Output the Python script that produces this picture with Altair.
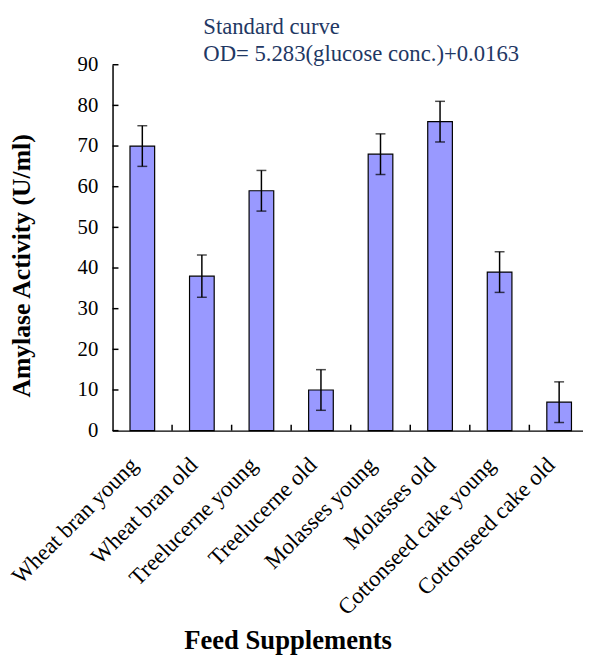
import altair as alt
import pandas as pd

categories = ["Wheat bran young", "Wheat bran old", "Treelucerne young", "Treelucerne old",
              "Molasses young", "Molasses old", "Cottonseed cake young", "Cottonseed cake old"]
values = [70, 38, 59, 10, 68, 76, 39, 7]
errors = [5, 5.2, 5, 5, 5, 5, 5, 5]
y_ticks = [0, 10, 20, 30, 40, 50, 60, 70, 80, 90]
note_lines = ["Standard curve", "OD= 5.283(glucose conc.)+0.0163"]

df = pd.DataFrame({"cat": categories, "val": values, "err": errors})
df["lo"] = df["val"] - df["err"]
df["hi"] = df["val"] + df["err"]
df["idx"] = range(len(df))

W, H = 477, 371
FONT = "Liberation Serif"

xscale = alt.Scale(range=[0, 483], paddingInner=0.586, paddingOuter=0.293)
yscale = alt.Scale(domain=[0, 90], nice=False)

x_enc = alt.X("cat:N", sort=categories, scale=xscale,
              axis=alt.Axis(title=None, labelAngle=315, labelAlign="right", labelBaseline="middle",
                            labelPadding=31, labelOffset=-8, labelFont=FONT, labelFontSize=23,
                            labelColor="black", ticks=False, tickSize=0, domainColor="black",
                            domainWidth=1.5, labelLimit=400))

base = alt.Chart(df)

bars = base.mark_bar(fill="#9999ff", stroke="black", strokeWidth=1.2).encode(
    x=x_enc,
    y=alt.Y("val:Q", scale=yscale,
            axis=alt.Axis(title=None, values=y_ticks, labelFont=FONT, labelFontSize=21,
                          labelColor="black", ticks=False, tickSize=0, labelPadding=15,
                          domainColor="black", domainWidth=1.5, grid=False)),
)

err_rule = base.mark_rule(color="black", strokeWidth=1.5).encode(
    x=alt.X("cat:N", sort=categories), y=alt.Y("lo:Q"), y2="hi:Q")
err_lo = base.mark_tick(color="black", size=10, thickness=1.5).encode(
    x=alt.X("cat:N", sort=categories), y=alt.Y("lo:Q"))
err_hi = base.mark_tick(color="black", size=10, thickness=1.5).encode(
    x=alt.X("cat:N", sort=categories), y=alt.Y("hi:Q"))

xticks = base.transform_filter("datum.idx > 0").mark_rule(
    color="black", strokeWidth=1.5, xOffset=-30.2).encode(
    x=alt.X("cat:N", sort=categories), y=alt.value(H - 6), y2=alt.value(H))

ytick_df = pd.DataFrame({"v": y_ticks})
yticks = alt.Chart(ytick_df).mark_rule(color="black", strokeWidth=1.5).encode(
    y=alt.Y("v:Q"), x=alt.value(0), x2=alt.value(6))

one = pd.DataFrame({"a": [0]})
note1 = alt.Chart(one).mark_text(font=FONT, fontSize=23, color="#1f3864", align="left",
                                 baseline="alphabetic").encode(
    x=alt.value(92), y=alt.value(-31), text=alt.value(note_lines[0]))
note2 = alt.Chart(one).mark_text(font=FONT, fontSize=23, color="#1f3864", align="left",
                                 baseline="alphabetic").encode(
    x=alt.value(92), y=alt.value(-4), text=alt.value(note_lines[1]))
ytitle = alt.Chart(one).mark_text(font=FONT, fontSize=26, fontWeight="bold", color="black",
                                  align="center", baseline="alphabetic", angle=270).encode(
    x=alt.value(-84), y=alt.value(204), text=alt.value("Amylase Activity (U/ml)"))
xtitle = alt.Chart(one).mark_text(font=FONT, fontSize=27, fontWeight="bold", color="black",
                                  align="center", baseline="alphabetic").encode(
    x=alt.value(178), y=alt.value(592), text=alt.value("Feed Supplements"))

chart = alt.layer(bars, err_rule, err_lo, err_hi, xticks, yticks, note1, note2, ytitle, xtitle).properties(
    width=W, height=H,
    autosize=alt.AutoSizeParams(type="none"),
    padding={"left": 106, "top": 53, "right": 0, "bottom": 226},
).configure_view(stroke=None).configure_axis(grid=False)

chart.save("out.html", embed_options={"renderer": "svg", "actions": False})
